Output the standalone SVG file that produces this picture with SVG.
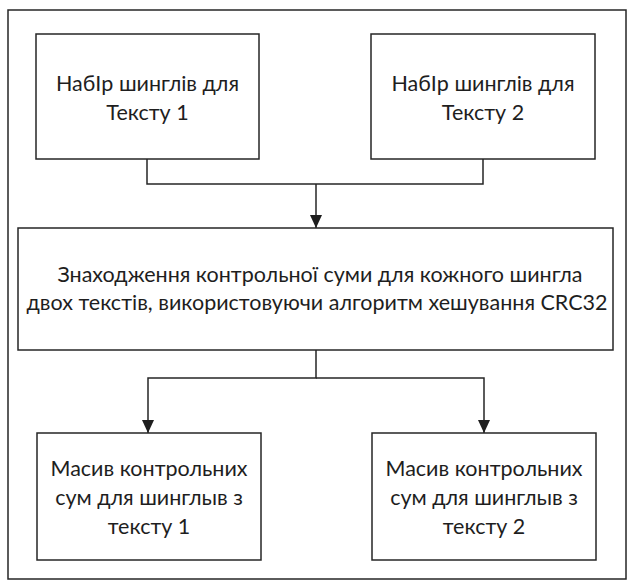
<svg xmlns="http://www.w3.org/2000/svg" width="634" height="583" viewBox="0 0 634 583">
<style>
.box{fill:#fff;stroke:#262626;stroke-width:1.5}
.ln{fill:none;stroke:#262626;stroke-width:1.5}
text{font-family:Lato,"Liberation Sans",sans-serif;font-size:21.5px;fill:#1e1e1e;text-anchor:middle}
</style>
<defs>
<marker id="arr" viewBox="0 0 13 12" refX="13" refY="6" markerWidth="13" markerHeight="12" markerUnits="userSpaceOnUse" orient="auto">
<path d="M0,0 L13,6 L0,12 Z" fill="#1e1e1e"/>
</marker>
</defs>
<rect x="0" y="0" width="634" height="583" fill="#fff"/>
<rect id="frame" x="8" y="10" width="618" height="569" class="box"/>
<g id="connectors">
<path class="ln" d="M147,159 V184 H483 V159"/>
<path class="ln" d="M316,184 V228" marker-end="url(#arr)"/>
<path class="ln" d="M316,350 V378 H148 V433" marker-end="url(#arr)"/>
<path class="ln" d="M316,378 H484 V433" marker-end="url(#arr)"/>
</g>
<g id="n1">
<rect x="36" y="34" width="223" height="125" class="box"/>
<text x="147.5" y="91">НабIр шинглів для</text>
<text x="147.5" y="120">Тексту 1</text>
</g>
<g id="n2">
<rect x="371" y="34" width="224" height="125" class="box"/>
<text x="483" y="91">НабIр шинглів для</text>
<text x="483" y="120">Тексту 2</text>
</g>
<g id="n3">
<rect x="18" y="228" width="595" height="122" class="box"/>
<text x="320" y="282">Знаходження контрольної суми для кожного шингла</text>
<text x="317" y="310">двох текстів, використовуючи алгоритм хешування CRC32</text>
</g>
<g id="n4">
<rect x="37" y="433" width="224" height="127" class="box"/>
<text x="149" y="476">Масив контрольних</text>
<text x="149" y="505">сум для шинглыв з</text>
<text x="149" y="534">тексту 1</text>
</g>
<g id="n5">
<rect x="372" y="433" width="224" height="127" class="box"/>
<text x="484" y="476">Масив контрольних</text>
<text x="484" y="505">сум для шинглыв з</text>
<text x="484" y="534">тексту 2</text>
</g>
</svg>
